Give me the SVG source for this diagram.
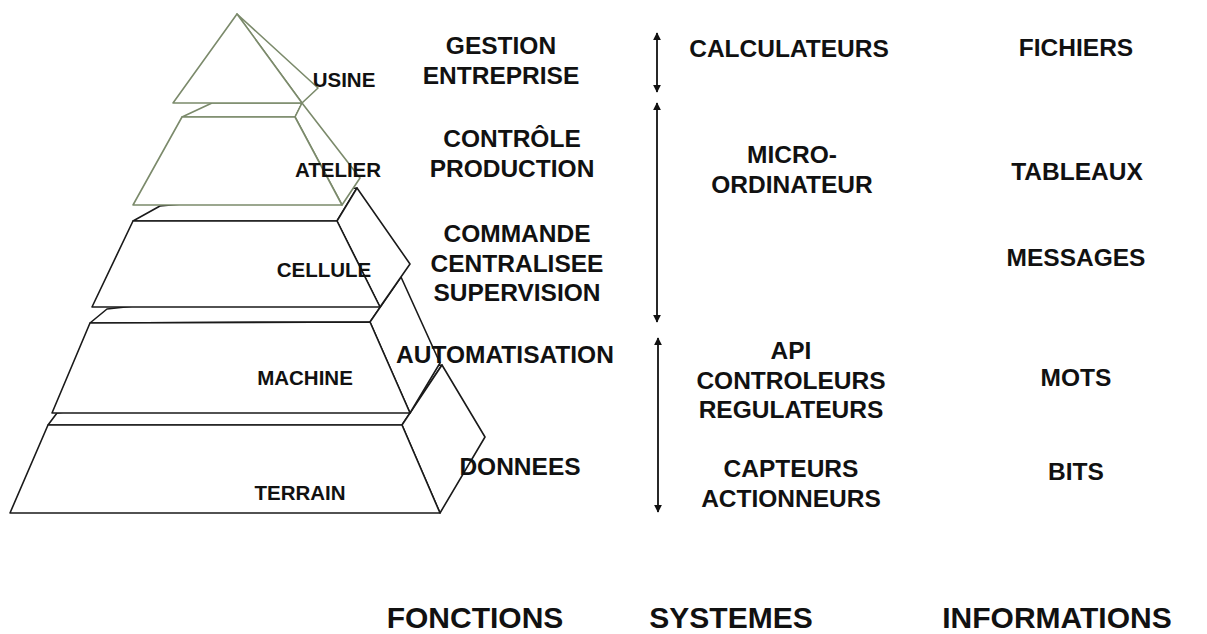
<svg xmlns="http://www.w3.org/2000/svg" width="1207" height="634" viewBox="0 0 1207 634">
  <defs>
    <marker id="head" viewBox="0 0 10 10" refX="9" refY="5" markerWidth="8" markerHeight="9" markerUnits="userSpaceOnUse" orient="auto-start-reverse">
      <path d="M0,0 L10,5 L0,10 z" fill="#111"/>
    </marker>
    <style>
      .lvl { fill: #fff; stroke: #1a1a1a; stroke-width: 1.6; stroke-linejoin: round; }
      .top-lvl { fill: #fff; stroke: #7b8a6b; stroke-width: 1.6; stroke-linejoin: round; }
      .lbl { font-family: "Liberation Sans", Arial, sans-serif; font-weight: bold; font-size: 20.5px; fill: #111; text-anchor: middle; }
      .txt { font-family: "Liberation Sans", Arial, sans-serif; font-weight: bold; font-size: 24.5px; fill: #111; text-anchor: middle; }
      .head { font-family: "Liberation Sans", Arial, sans-serif; font-weight: bold; font-size: 30px; fill: #111; text-anchor: middle; }
      .arr { stroke: #111; stroke-width: 1.8; fill: none; marker-start: url(#head); marker-end: url(#head); }
    </style>
  </defs>

  <!-- pyramid, drawn from the base upward so each level overlaps the one below -->
  <g id="terrain">
    <polygon class="lvl" points="48,425 57,413 442,365 402,425"/>
    <polygon class="lvl" points="402,425 442,365 485,437 440,513"/>
    <polygon class="lvl" points="48,425 402,425 440,513 10,513"/>
    <text class="lbl" x="300" y="500">TERRAIN</text>
  </g>

  <g id="machine">
    <polygon class="lvl" points="90,323 107,309 401,277 370,322"/>
    <polygon class="lvl" points="370,322 401,277 440,363 410,413"/>
    <polygon class="lvl" points="90,323 370,322 410,413 52,413"/>
    <text class="lbl" x="305" y="385">MACHINE</text>
  </g>

  <g id="cellule">
    <polygon class="lvl" points="133,221 160,206 357,188 337,221"/>
    <polygon class="lvl" points="337,221 357,188 410,264 380,307"/>
    <polygon class="lvl" points="133,221 337,221 380,307 92,307"/>
    <text class="lbl" x="324" y="277">CELLULE</text>
  </g>

  <g id="atelier">
    <polygon class="top-lvl" points="182,117 212,103 302,103 295,117"/>
    <polygon class="top-lvl" points="295,117 302,103 360,178 342,205"/>
    <polygon class="top-lvl" points="182,117 295,117 342,205 133,205"/>
    <text class="lbl" x="338" y="177">ATELIER</text>
  </g>

  <g id="usine">
    <polygon class="top-lvl" points="237,14 318,88 302,103"/>
    <polygon class="top-lvl" points="237,14 302,103 173,103"/>
    <text class="lbl" x="344" y="87">USINE</text>
  </g>

  <!-- range arrows between the columns -->
  <g id="connectors">
    <line class="arr" x1="657" y1="33" x2="657" y2="92"/>
    <line class="arr" x1="657" y1="103" x2="657" y2="322"/>
    <line class="arr" x1="658" y1="338" x2="658" y2="512"/>
  </g>

  <!-- functions column -->
  <g id="fonctions">
    <text class="txt" x="501" y="54">GESTION</text>
    <text class="txt" x="501" y="84">ENTREPRISE</text>
    <text class="txt" x="512" y="147">CONTRÔLE</text>
    <text class="txt" x="512" y="177">PRODUCTION</text>
    <text class="txt" x="517" y="242">COMMANDE</text>
    <text class="txt" x="517" y="272">CENTRALISEE</text>
    <text class="txt" x="517" y="301">SUPERVISION</text>
    <text class="txt" x="505" y="363">AUTOMATISATION</text>
    <text class="txt" x="520" y="475">DONNEES</text>
  </g>

  <!-- systems column -->
  <g id="systemes">
    <text class="txt" x="789" y="57">CALCULATEURS</text>
    <text class="txt" x="792" y="163">MICRO-</text>
    <text class="txt" x="792" y="193">ORDINATEUR</text>
    <text class="txt" x="791" y="359">API</text>
    <text class="txt" x="791" y="389">CONTROLEURS</text>
    <text class="txt" x="791" y="418">REGULATEURS</text>
    <text class="txt" x="791" y="477">CAPTEURS</text>
    <text class="txt" x="791" y="507">ACTIONNEURS</text>
  </g>

  <!-- information column -->
  <g id="informations">
    <text class="txt" x="1076" y="56">FICHIERS</text>
    <text class="txt" x="1077" y="180">TABLEAUX</text>
    <text class="txt" x="1076" y="266">MESSAGES</text>
    <text class="txt" x="1076" y="386">MOTS</text>
    <text class="txt" x="1076" y="480">BITS</text>
  </g>

  <!-- column headings -->
  <g id="headings">
    <text class="head" x="475" y="628">FONCTIONS</text>
    <text class="head" x="731" y="628">SYSTEMES</text>
    <text class="head" x="1057" y="628">INFORMATIONS</text>
  </g>
</svg>
